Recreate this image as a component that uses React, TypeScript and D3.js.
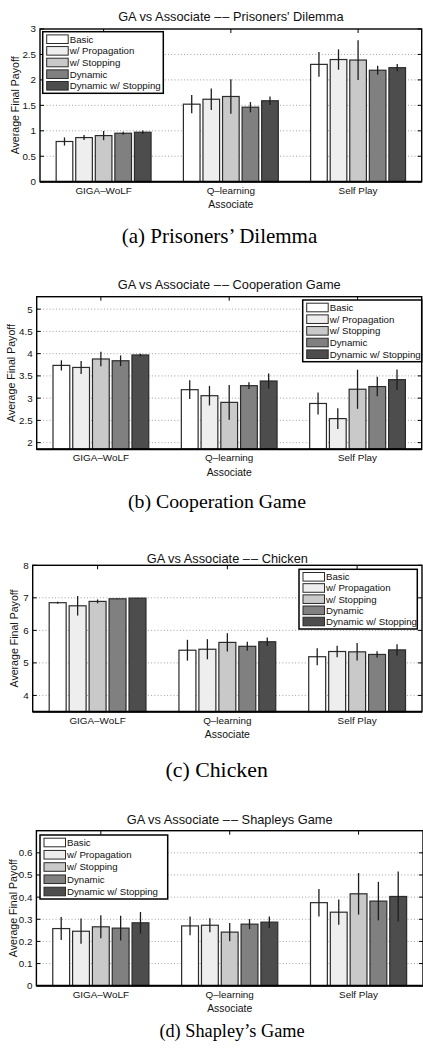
import React from "react";
import * as d3 from "d3";

// Opponents the GA agent was paired with, and the GA variants compared
const associates = ["GIGA–WoLF", "Q–learning", "Self Play"];
const variants = ["Basic", "w/ Propagation", "w/ Stopping", "Dynamic", "Dynamic w/ Stopping"];
const fills = ["#ffffff", "#eeeeee", "#c9c9c9", "#808080", "#4d4d4d"];

// Prisoners' Dilemma: mean payoff per associate (rows) and variant (cols)
const pdMeans = [
  [0.79, 0.867, 0.906, 0.952, 0.972],
  [1.523, 1.62, 1.674, 1.464, 1.59],
  [2.305, 2.4, 2.39, 2.19, 2.24],
];
const pdErrors = [
  [0.08, 0.05, 0.09, 0.03, 0.035],
  [0.18, 0.21, 0.34, 0.1, 0.085],
  [0.245, 0.2, 0.39, 0.09, 0.07],
];
const pdTicks = [0, 0.5, 1, 1.5, 2, 2.5, 3];

// Cooperation Game
const coopMeans = [
  [3.736, 3.69, 3.88, 3.84, 3.97],
  [3.19, 3.055, 2.905, 3.28, 3.385],
  [2.88, 2.54, 3.2, 3.26, 3.415],
];
const coopErrors = [
  [0.115, 0.145, 0.165, 0.12, 0.03],
  [0.21, 0.22, 0.39, 0.075, 0.17],
  [0.245, 0.235, 0.44, 0.22, 0.23],
];
const coopTicks = [2, 2.5, 3, 3.5, 4, 4.5, 5];

// Chicken
const chickenMeans = [
  [6.85, 6.755, 6.89, 6.97, 6.99],
  [5.39, 5.42, 5.63, 5.51, 5.65],
  [5.19, 5.35, 5.34, 5.26, 5.4],
];
const chickenErrors = [
  [0.03, 0.3, 0.06, 0.01, 0.01],
  [0.32, 0.31, 0.28, 0.14, 0.13],
  [0.26, 0.18, 0.27, 0.1, 0.17],
];
const chickenTicks = [4, 5, 6, 7, 8];

// Shapley's Game
const shapleyMeans = [
  [0.258, 0.246, 0.266, 0.26, 0.284],
  [0.27, 0.273, 0.242, 0.278, 0.287],
  [0.375, 0.332, 0.415, 0.382, 0.403],
];
const shapleyErrors = [
  [0.052, 0.057, 0.052, 0.056, 0.049],
  [0.042, 0.032, 0.041, 0.023, 0.026],
  [0.062, 0.057, 0.094, 0.087, 0.113],
];
const shapleyTicks = [0, 0.1, 0.2, 0.3, 0.4, 0.5, 0.6];

type Panel = {
  means: number[][];
  errors: number[][];
  ticks: number[];
  domain: [number, number];
  title: string;
  caption: string;
  left: number;
  right: number;
  top: number;
  bottom: number;
  titleY: number;
  ylabelX: number;
  legend: { x: number; y: number; w: number; h: number };
  captionX: number;
  captionY: number;
  captionSize: number;
};

const DASHES = "–\u200A–";

const panels: Panel[] = [
  {
    means: pdMeans, errors: pdErrors, ticks: pdTicks, domain: [0, 3],
    title: `GA vs Associate ${DASHES} Prisoners' Dilemma`, caption: "(a) Prisoners’ Dilemma",
    left: 40, right: 421.7, top: 29, bottom: 181.7, titleY: 20.7, ylabelX: 15,
    legend: { x: 42.7, y: 31.7, w: 120.6, h: 61.6 },
    captionX: 219.5, captionY: 242.7, captionSize: 21,
  },
  {
    means: coopMeans, errors: coopErrors, ticks: coopTicks, domain: [1.85, 5.28],
    title: `GA vs Associate ${DASHES} Cooperation Game`, caption: "(b) Cooperation Game",
    left: 36.7, right: 421.7, top: 296.7, bottom: 449.3, titleY: 289.3, ylabelX: 11.7,
    legend: { x: 302.7, y: 300, w: 119, h: 61.7 },
    captionX: 217, captionY: 508, captionSize: 19.8,
  },
  {
    means: chickenMeans, errors: chickenErrors, ticks: chickenTicks, domain: [3.5, 8],
    title: `GA vs Associate ${DASHES} Chicken`, caption: "(c) Chicken",
    left: 32.7, right: 422, top: 565.3, bottom: 711.7, titleY: 562.5, ylabelX: 14,
    legend: { x: 299, y: 569.3, w: 118.3, h: 59.7 },
    captionX: 216.7, captionY: 777.3, captionSize: 21.8,
  },
  {
    means: shapleyMeans, errors: shapleyErrors, ticks: shapleyTicks, domain: [0, 0.7],
    title: `GA vs Associate ${DASHES} Shapleys Game`, caption: "(d) Shapley’s Game",
    left: 36.4, right: 423, top: 830.7, bottom: 985.7, titleY: 824.3, ylabelX: 13.3,
    legend: { x: 40, y: 835, w: 127.7, h: 64 },
    captionX: 232, captionY: 1036.7, captionSize: 18.3,
  },
];

const SANS = "'Liberation Sans', Arial, Helvetica, sans-serif";
const SERIF = "'Liberation Serif', 'Times New Roman', serif";

function BarPanel({ p }: { p: Panel }) {
  const x = d3.scaleLinear().domain([0.5, 3.5]).range([p.left, p.right]);
  const y = d3.scaleLinear().domain(p.domain).range([p.bottom, p.top]);
  const groupWidth = x(1.3845) - x(1);
  const tickLen = 4;

  return (
    <g>
      <text x={(p.left + p.right) / 2} y={p.titleY} textAnchor="middle" fontFamily={SANS} fontSize={12.8} fill="#111">
        {p.title}
      </text>

      {/* dotted horizontal grid */}
      {p.ticks.filter((t) => y(t) > p.top + 0.5 && y(t) < p.bottom - 0.5).map((t) => (
        <line key={"g" + t} x1={p.left} x2={p.right} y1={y(t)} y2={y(t)} stroke="#8a8a8a" strokeWidth={0.8} strokeDasharray="1,2.2" />
      ))}

      {/* bars with error bars */}
      {associates.map((a, gi) => {
        const c = x(gi + 1);
        const band = d3.scaleBand<string>().domain(variants).range([c - groupWidth, c + groupWidth]).paddingInner(0.15).paddingOuter(0.075);
        return (
          <g key={a}>
            {variants.map((v, vi) => {
              const m = p.means[gi][vi];
              const e = p.errors[gi][vi];
              const bx = band(v) as number;
              const cx = bx + band.bandwidth() / 2;
              return (
                <g key={v}>
                  <rect x={bx} y={y(m)} width={band.bandwidth()} height={p.bottom - y(m)} fill={fills[vi]} stroke="#2b2b2b" strokeWidth={1.2} />
                  <line x1={cx} x2={cx} y1={y(m - e)} y2={y(m + e)} stroke="#1e1e1e" strokeWidth={1.3} />
                </g>
              );
            })}
          </g>
        );
      })}

      {/* axes frame and ticks */}
      <rect x={p.left} y={p.top} width={p.right - p.left} height={p.bottom - p.top} fill="none" stroke="#000" strokeWidth={1.4} />
      <line x1={p.left} x2={p.right} y1={p.bottom} y2={p.bottom} stroke="#000" strokeWidth={2} />
      {p.ticks.map((t) => (
        <g key={"t" + t}>
          <line x1={p.left} x2={p.left + tickLen} y1={y(t)} y2={y(t)} stroke="#000" strokeWidth={1} />
          <line x1={p.right} x2={p.right - tickLen} y1={y(t)} y2={y(t)} stroke="#000" strokeWidth={1} />
          <text x={p.left - 4} y={y(t)} dy="0.35em" textAnchor="end" fontFamily={SANS} fontSize={9.8} fill="#111">
            {String(t)}
          </text>
        </g>
      ))}
      {associates.map((a, gi) => (
        <g key={"x" + a}>
          <line x1={x(gi + 1)} x2={x(gi + 1)} y1={p.top} y2={p.top + tickLen} stroke="#000" strokeWidth={1} />
          <text x={x(gi + 1)} y={p.bottom + 12} textAnchor="middle" fontFamily={SANS} fontSize={9.9} fill="#111">
            {a}
          </text>
        </g>
      ))}
      <text x={(p.left + p.right) / 2} y={p.bottom + 26.5} textAnchor="middle" fontFamily={SANS} fontSize={10.4} fill="#111">
        Associate
      </text>
      <text
        transform={`translate(${p.ylabelX},${(p.top + p.bottom) / 2}) rotate(-90)`}
        dy="0.35em" textAnchor="middle" fontFamily={SANS} fontSize={10.6} fill="#111"
      >
        Average Final Payoff
      </text>

      {/* legend */}
      <g>
        <rect x={p.legend.x} y={p.legend.y} width={p.legend.w} height={p.legend.h} fill="#fff" stroke="#000" strokeWidth={1.5} />
        {variants.map((v, vi) => {
          const step = (p.legend.h - 15) / 4;
          const cy = p.legend.y + 7.5 + vi * step;
          return (
            <g key={"l" + v}>
              <rect x={p.legend.x + 4} y={cy - 4.3} width={21.5} height={8.6} fill={fills[vi]} stroke="#2b2b2b" strokeWidth={1} />
              <text x={p.legend.x + 27} y={cy} dy="0.35em" fontFamily={SANS} fontSize={9.7} fill="#111">
                {v}
              </text>
            </g>
          );
        })}
      </g>

      <text x={p.captionX} y={p.captionY} textAnchor="middle" fontFamily={SERIF} fontSize={p.captionSize} fill="#000">
        {p.caption}
      </text>
    </g>
  );
}

export default function App() {
  return (
    <svg width={423} height={1049} viewBox="0 0 423 1049" style={{ position: "absolute", left: 0, top: 0, background: "#fff" }}>
      <rect x={0} y={0} width={423} height={1049} fill="#fff" />
      {panels.map((p, i) => (
        <BarPanel key={i} p={p} />
      ))}
    </svg>
  );
}
